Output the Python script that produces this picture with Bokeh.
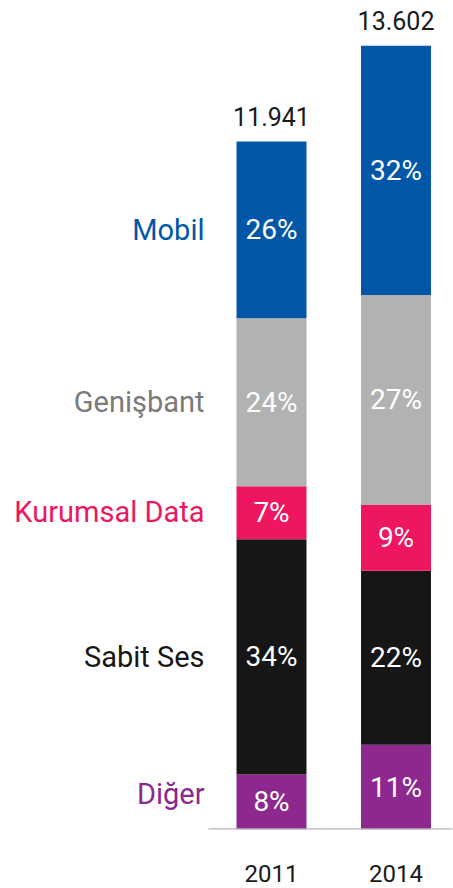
from bokeh.plotting import figure
from bokeh.models import ColumnDataSource, FixedTicker, Range1d
from bokeh.core.properties import value
from bokeh.embed import file_html
from bokeh.resources import INLINE

years = ["2011", "2014"]
totals = [11941, 13602]
total_labels = ["11.941", "13.602"]
segments = ["Diğer", "Sabit Ses", "Kurumsal Data", "Genişbant", "Mobil"]
# estimated segment values
vals_2011 = [955, 4084, 920, 2914, 3068]
vals_2014 = [1469, 3020, 1143, 3645, 4325]
pct_2011 = ["8%", "34%", "7%", "24%", "26%"]
pct_2014 = ["11%", "22%", "9%", "27%", "32%"]
bar_colors = ["#8C288E", "#161616", "#EE1660", "#B2B2B2", "#0057A8"]
label_colors = ["#8C288E", "#161616", "#EE1660", "#7A7A7A", "#0057A8"]

FONT = "Roboto"

p = figure(width=453, height=888, output_backend="svg", toolbar_location=None,
           x_range=Range1d(-2.1767, 1.4618), y_range=Range1d(0, 14388),
           min_border_left=0, min_border_right=0, min_border_top=0,
           min_border_bottom=59)
p.outline_line_color = None
p.grid.visible = False
p.yaxis.visible = False
p.background_fill_color = "white"
p.border_fill_color = "white"

bar_w = 0.562
xs, bottoms, tops, colors, pcts = [], [], [], [], []
for i, vals in enumerate([vals_2011, vals_2014]):
    acc = 0
    for j, v in enumerate(vals):
        xs.append(i)
        bottoms.append(acc)
        tops.append(acc + v)
        colors.append(bar_colors[j])
        pcts.append([pct_2011, pct_2014][i][j])
        acc += v
src = ColumnDataSource(dict(x=xs, bottom=bottoms, top=tops, color=colors, pct=pcts,
                            mid=[(b + t) / 2 for b, t in zip(bottoms, tops)]))
p.vbar(x="x", bottom="bottom", top="top", width=bar_w, fill_color="color",
       line_color=None, source=src)
p.text(x="x", y="mid", text="pct", source=src, text_align="center",
       text_baseline="middle", text_color="white", text_font=value(FONT),
       text_font_size="28px")

# totals above bars
tsrc = ColumnDataSource(dict(x=[0, 1], y=totals, t=total_labels))
p.text(x="x", y="y", text="t", source=tsrc, text_align="center",
       text_baseline="alphabetic", y_offset=-25, text_color="#1a1a1a",
       text_font=value(FONT), text_font_size="25px")

# category labels left of the 2011 bar
label_dy = [-8, 0, -1, 0, 0]
lsrc = ColumnDataSource(dict(x=[0] * 5, y=[s for s in src.data["mid"][:5]],
                             t=segments, c=label_colors, dy=label_dy))
p.text(x="x", y="y", text="t", source=lsrc, text_align="right",
       text_baseline="middle", x_offset=-67, y_offset="dy", text_color="c",
       text_font=value(FONT), text_font_size="29px")

# baseline
p.segment(x0=[-0.506], y0=[0], x1=[1.454], y1=[0], line_color="#B3B3B3", line_width=2.5)

ax = p.xaxis[0]
ax.ticker = FixedTicker(ticks=[0, 1])
ax.major_label_overrides = {0: years[0], 1: years[1]}
ax.axis_line_color = None
ax.major_tick_line_color = None
ax.minor_tick_line_color = None
ax.major_tick_out = 0
ax.major_tick_in = 0
ax.major_label_standoff = 35
ax.major_label_text_line_height = 1.0
ax.major_label_text_font = FONT
ax.major_label_text_font_size = "24px"
ax.major_label_text_color = "#1a1a1a"

open("out.html", "w").write(file_html(p, INLINE))
